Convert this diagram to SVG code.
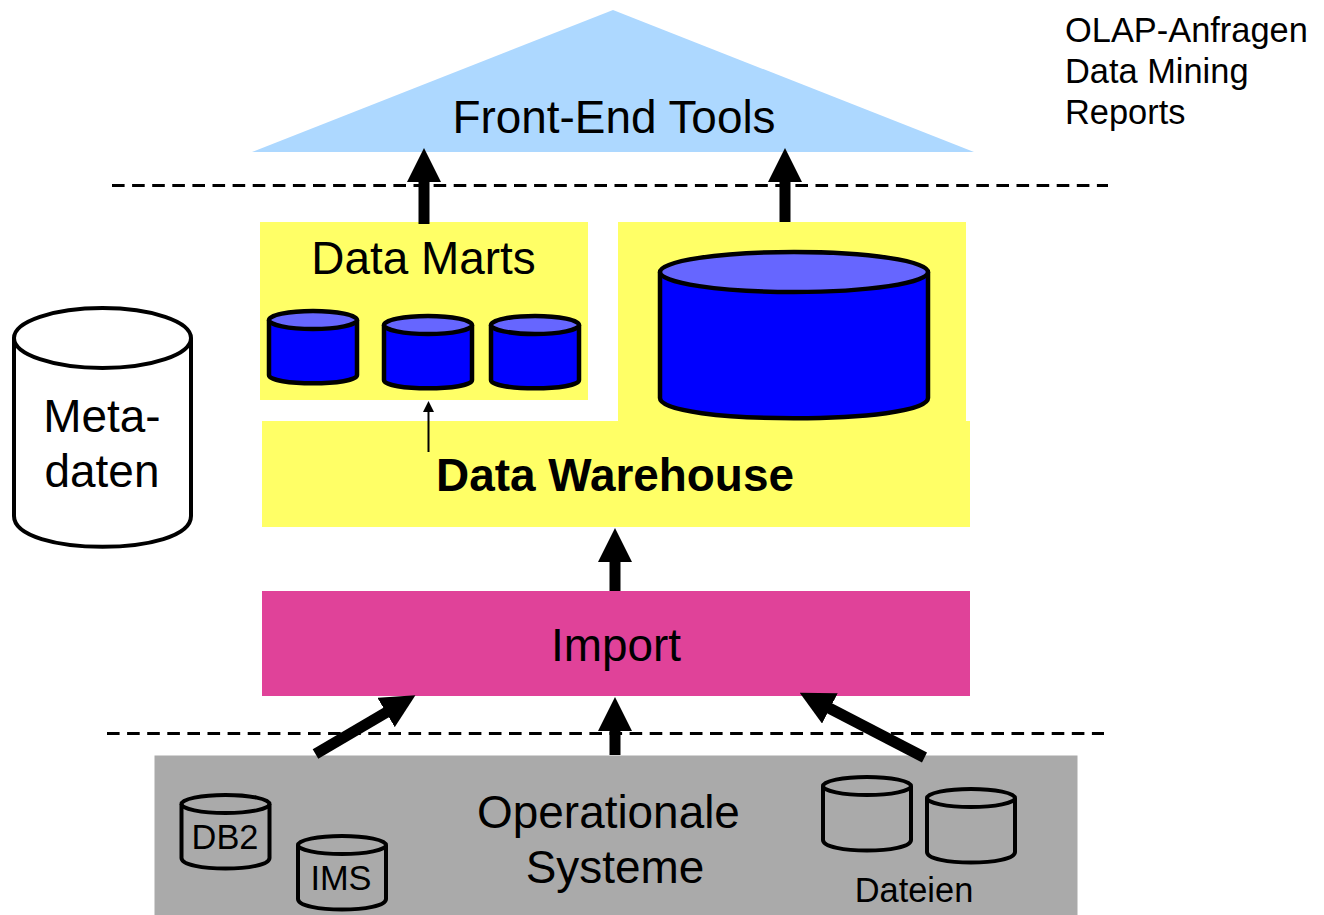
<svg xmlns="http://www.w3.org/2000/svg" width="1324" height="915" viewBox="0 0 1324 915">
<style>
text{font-family:"Liberation Sans",Arial,sans-serif;fill:#000}
.big{font-size:45.900px;text-anchor:middle}
.side{font-size:34.400px}
.small{font-size:34.400px;text-anchor:middle}
.y{fill:#ffff66}
.dash{stroke:#000;stroke-width:3;stroke-dasharray:12.600 7.500;fill:none}
.blue{fill:#0000ff;stroke:#000;stroke-width:4.500}
.bluetop{fill:#6666ff;stroke:#000;stroke-width:4.500}
.gr{fill:none;stroke:#000;stroke-width:4}
.wh{fill:#fff;stroke:#000;stroke-width:4}
.conn{stroke:#000;stroke-width:11;fill:none}
</style>
<defs>
<marker id="a" markerUnits="userSpaceOnUse" viewBox="0 0 34 34" refX="1" refY="17" markerWidth="34" markerHeight="34" orient="auto"><path d="M0 0L34 17L0 34Z" fill="#000"/></marker>
<marker id="b" markerUnits="userSpaceOnUse" viewBox="0 0 11 11" refX="1" refY="5.500" markerWidth="11" markerHeight="11" orient="auto"><path d="M0 0L11 5.500L0 11Z" fill="#000"/></marker>
</defs>
<g id="front-end"><path d="M613 10L974 152H252Z" fill="#add8ff"/><text class="big" x="614" y="133">Front-End Tools</text></g>
<g id="labels"><text class="side" x="1065" y="42">OLAP-Anfragen</text><text class="side" x="1065" y="83">Data Mining</text><text class="side" x="1065" y="124">Reports</text></g>
<g id="separators"><path class="dash" d="M112 185.500H1108"/><path class="dash" d="M107 733.500H1104"/></g>
<g id="data-marts"><rect class="y" x="260" y="222" width="328" height="178"/><text class="big" x="423.500" y="274">Data Marts</text>
<path class="blue" d="M269 320V375C269 386 357 386 357 375V320"/><ellipse class="bluetop" cx="313" cy="320" rx="44" ry="9"/>
<path class="blue" d="M384 325V380C384 391 472 391 472 380V325"/><ellipse class="bluetop" cx="428" cy="325" rx="44" ry="9"/>
<path class="blue" d="M491 325V380C491 391 579 391 579 380V325"/><ellipse class="bluetop" cx="535" cy="325" rx="44" ry="9"/></g>
<g id="data-warehouse"><path class="y" d="M618 222H966V421H970V527H262V421H618Z"/>
<path class="blue" d="M660 272V398C660 425 928 425 928 398V272"/><ellipse class="bluetop" cx="794" cy="272" rx="134" ry="20"/>
<text class="big" x="615" y="491" font-weight="bold">Data Warehouse</text></g>
<g id="metadaten"><path class="wh" d="M14 338V516C14 557 191 557 191 516V338"/><ellipse class="wh" cx="102.500" cy="338" rx="88.500" ry="30"/><text class="big" x="102" y="432">Meta-</text><text class="big" x="102" y="487">daten</text></g>
<g id="import"><rect x="262" y="591" width="708" height="105" fill="#e04299"/><text class="big" x="616" y="661">Import</text></g>
<g id="operationale-systeme"><rect x="154.500" y="755.500" width="923" height="160" fill="#aaaaaa"/>
<text class="big" x="608.500" y="828">Operationale</text><text class="big" x="615" y="882.500">Systeme</text>
<path class="gr" d="M181.500 804V858C181.500 872 269.500 872 269.500 858V804"/><ellipse class="gr" cx="225.500" cy="804" rx="44" ry="9"/><text class="small" x="225" y="849">DB2</text>
<path class="gr" d="M298 845V899C298 913 386 913 386 899V845"/><ellipse class="gr" cx="342" cy="845" rx="44" ry="9"/><text class="small" x="341" y="890">IMS</text>
<path class="gr" d="M823 786V840C823 854 911 854 911 840V786"/><ellipse class="gr" cx="867" cy="786" rx="44" ry="9"/>
<path class="gr" d="M927 798V852C927 866 1015 866 1015 852V798"/><ellipse class="gr" cx="971" cy="798" rx="44" ry="9"/>
<text class="small" x="914" y="901.500">Dateien</text></g>
<g id="connectors">
<path class="conn" marker-end="url(#a)" d="M424 224V181"/>
<path class="conn" marker-end="url(#a)" d="M785 222V181"/>
<path class="conn" marker-end="url(#a)" d="M615 591V561"/>
<path class="conn" marker-end="url(#a)" d="M615 755V730"/>
<path class="conn" marker-end="url(#a)" d="M315.500 754L387 712"/>
<path class="conn" marker-end="url(#a)" d="M924.500 757.500L829 708"/>
<path stroke="#000" stroke-width="2" fill="none" marker-end="url(#b)" d="M428.500 452V411"/>
</g>
</svg>
